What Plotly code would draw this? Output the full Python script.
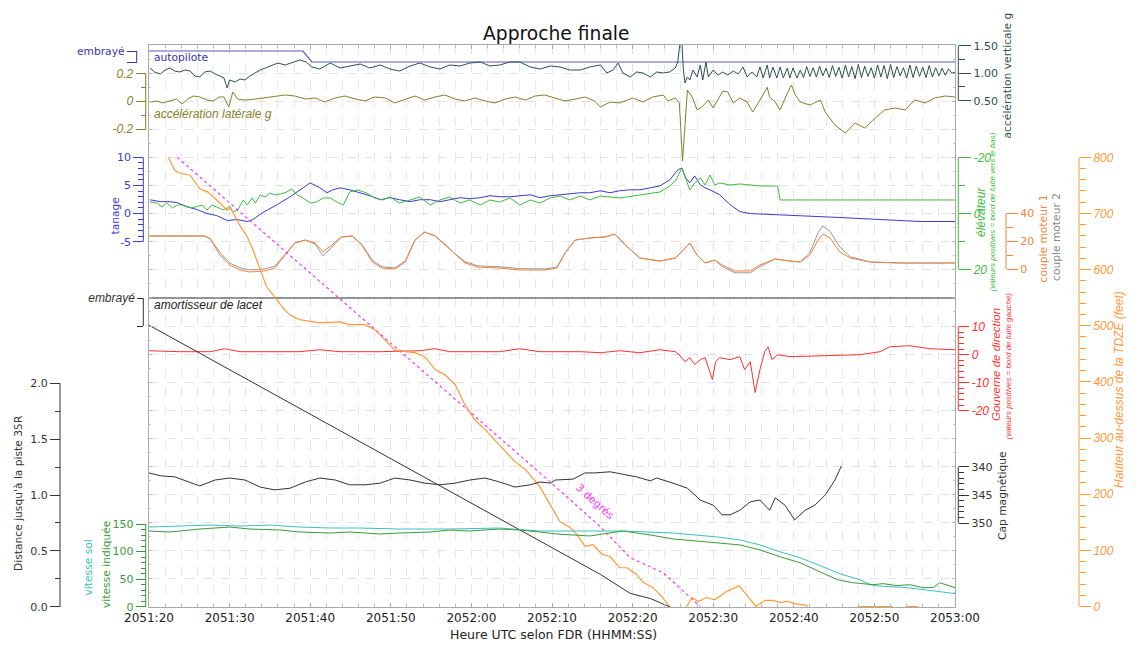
import plotly.graph_objects as go

# ---------------- data ----------------
TIME_TICK_SEC = [0, 10, 20, 30, 40, 50, 60, 70, 80, 90, 100]
TIME_TICKS = ["2051:20", "2051:30", "2051:40", "2051:50", "2052:00", "2052:10",
              "2052:20", "2052:30", "2052:40", "2052:50", "2053:00"]

AP_T = [0, 19.1, 20.2, 100]
AP_V = [1, 1, 0, 0]

VACC_T = [0.1, 0.7, 1.4, 2.0, 2.6, 3.2, 3.8, 4.5, 5.1, 5.7, 6.3, 6.9, 7.6, 8.2, 8.8, 9.3, 9.7, 10.0, 10.7,
          11.3, 11.9, 12.5, 13.8, 15.0, 16.0, 16.9, 17.7, 18.7, 19.5, 20.2, 21.2, 22.5, 23.7, 24.9, 26.2,
          27.4, 28.7, 29.9, 31.1, 32.4, 33.6, 34.9, 36.1, 37.3, 38.6, 39.8, 41.1, 42.3, 43.5, 44.8, 46.0,
          47.3, 48.5, 49.8, 51.0, 52.2, 53.5, 54.7, 56.0, 56.8, 57.6, 58.2, 58.8, 59.7, 60.5, 61.3, 62.2,
          63.0, 63.8, 64.6, 65.3, 65.6, 65.9, 66.1, 66.3, 66.5, 66.8, 67.1, 67.5, 68.0, 68.4, 68.7, 69.1,
          69.4, 70.0, 70.6, 71.2, 71.8, 72.5, 73.1, 73.7, 74.2, 74.8, 75.4, 75.8, 76.2, 76.7, 77.0, 77.4,
          77.9, 78.3, 78.7, 79.2, 79.5, 79.9, 80.4, 80.8,
          81.2, 81.6, 82.0, 82.4, 82.8, 83.2, 83.6, 84.0, 84.4, 84.8, 85.2, 85.6, 86.0, 86.4, 86.8, 87.2,
          87.6, 88.0, 88.4, 88.8, 89.2, 89.6, 90.0, 90.4, 90.8, 91.2, 91.6, 92.0, 92.4, 92.8, 93.2, 93.6,
          94.0, 94.4, 94.8, 95.2, 95.6, 96.0, 96.4, 96.8, 97.2, 97.6, 98.0, 98.4, 98.8, 99.2, 99.6, 100.0]
VACC_V = [1.095, 1.022, 0.985, 1.058, 1.095, 1.04, 1.022, 1.058, 1.04, 0.949, 0.931, 1.022, 1.04, 0.985,
          0.949, 0.913, 0.731, 0.876, 0.84, 0.895, 0.876, 0.949, 1.058, 1.131, 1.185, 1.149, 1.185, 1.24,
          1.204, 1.113, 1.076, 1.185, 1.095, 1.131, 1.167, 1.095, 1.149, 1.076, 1.04, 1.131, 1.185, 1.113,
          1.076, 1.149, 1.131, 1.185, 1.204, 1.131, 1.149, 1.204, 1.204, 1.113, 1.076, 1.131, 1.113, 1.058,
          1.058, 1.113, 1.149, 1.004, 1.058, 1.185, 1.004, 0.931, 1.022, 1.004, 0.931, 1.022, 1.004, 1.022,
          1.095, 1.204, 1.57, 1.6, 1.058, 0.822, 0.931, 0.876, 1.058, 0.931, 1.149, 0.876, 1.204, 0.931,
          1.058, 0.967, 1.022, 0.967, 1.04, 0.985, 1.113, 0.931, 1.022, 0.931, 1.113, 0.913, 1.149, 0.913,
          1.113, 0.913, 1.113, 0.913, 1.095, 0.913, 1.095, 0.913, 1.058,
          0.92, 1.12, 0.94, 1.10, 0.93, 1.13, 0.95, 1.09, 0.92, 1.14, 0.94, 1.11, 0.91, 1.15, 0.93, 1.12,
          0.90, 1.16, 0.92, 1.13, 0.94, 1.10, 0.91, 1.15, 0.93, 1.14, 0.90, 1.16, 0.92, 1.12, 0.95, 1.10,
          0.91, 1.15, 0.92, 1.13, 0.94, 1.11, 0.92, 1.14, 0.93, 1.10, 0.95, 1.09, 0.96, 1.08, 1.00, 1.02]

LACC_T = [0.1, 1.0, 1.7, 2.6, 3.4, 4.1, 4.8, 5.5, 6.3, 7.2, 8.0, 8.7, 9.3, 9.9, 10.4, 11.0, 11.9, 13.2,
          14.4, 15.6, 16.9, 18.1, 19.4, 20.6, 21.8, 23.1, 24.3, 25.6, 26.8, 28.0, 29.3, 30.5, 31.8, 33.0,
          34.2, 35.5, 36.7, 38.0, 39.2, 40.4, 41.7, 42.9, 44.2, 45.4, 46.7, 47.9, 49.1, 50.4, 51.6, 52.9,
          54.1, 55.3, 56.0, 57.2, 58.4, 60.0, 61.3, 62.5, 63.8, 64.4, 65.3, 65.8, 66.2, 66.6, 66.8, 67.4,
          68.0, 68.6, 69.4, 70.0, 71.2, 71.8, 72.5, 73.3, 74.2, 74.9, 75.6, 76.7, 77.0, 77.7, 78.3, 79.2,
          79.7, 80.2, 80.8, 82.0, 83.3, 83.9, 85.1, 86.4, 87.6, 88.8, 90.1, 91.3, 92.6, 93.8, 95.0, 96.3,
          97.5, 98.8, 100.0]
LACC_V = [-0.006, 0.001, -0.013, 0.001, 0.015, -0.02, 0.015, 0.037, 0.03, 0.008, 0.001, 0.03, 0.03,
          -0.042, 0.066, 0.015, 0.008, 0.015, 0.023, 0.03, 0.044, 0.037, 0.015, 0.023, -0.006, 0.023,
          0.037, 0.015, 0.001, 0.03, 0.023, -0.013, 0.015, 0.037, 0.008, 0.03, 0.044, 0.015, 0.001, 0.023,
          0.001, -0.013, 0.015, 0.03, 0.008, 0.037, 0.044, 0.023, 0.001, 0.015, 0.03, 0.001, -0.042,
          -0.006, -0.013, 0.023, -0.006, 0.03, 0.044, 0.001, 0.023, -0.013, -0.43, -0.085, 0.08, 0.03,
          -0.063, -0.042, 0.008, -0.049, 0.073, 0.066, -0.013, 0.023, -0.006, -0.078, -0.013, 0.1, 0.03,
          -0.006, -0.063, 0.058, 0.116, 0.044, -0.006, -0.028, 0.008, -0.078, -0.171, -0.229, -0.157,
          -0.193, -0.121, -0.063, -0.049, -0.063, 0.008, -0.013, 0.023, 0.037, 0.03]

PITCH_T = [0.1, 1.4, 2.6, 3.5, 4.7, 6.0, 7.2, 8.4, 9.7, 10.9, 12.2, 12.9, 14.1, 15.9, 17.5, 18.7, 20.0,
           21.2, 22.1, 22.8, 23.7, 24.9, 26.2, 27.4, 28.7, 29.9, 31.1, 32.4, 33.6, 34.9, 36.1, 37.3, 38.6,
           39.8, 41.1, 42.3, 43.5, 44.8, 46.0, 47.3, 48.5, 49.8, 51.0, 52.2, 53.5, 54.7, 56.0, 57.2, 58.4,
           59.7, 60.9, 62.2, 63.4, 64.6, 65.6, 66.1, 66.6, 67.1, 67.7, 68.4, 69.0, 69.6, 70.8, 72.1, 73.3,
           74.6, 77.0, 80.8, 85.7, 90.7, 95.7, 100]
PITCH_V = [2.46, 2.11, 2.11, 1.94, 1.23, 0.70, 0, -0.35, -1.23, -1.06, -1.41, -1.06, 0.18, 1.58, 2.99,
           4.22, 5.46, 4.58, 3.7, 4.22, 4.58, 4.22, 3.7, 3.17, 2.46, 2.82, 2.46, 2.11, 2.46, 2.46, 2.11,
           2.46, 2.82, 2.64, 2.82, 3.17, 2.99, 2.99, 3.17, 3.34, 2.82, 3.17, 3.34, 3.52, 3.7, 3.7, 4.05,
           3.7, 4.05, 4.22, 4.22, 4.58, 4.93, 5.98, 7.74, 8.1, 6.34, 5.46, 6.69, 5.1, 4.58, 4.22, 3.34,
           1.58, 0.35, 0, -0.18, -0.35, -0.7, -1.06, -1.41, -1.41]

ELEV_T = [0.1, 1.0, 1.6, 2.2, 2.9, 3.5, 4.1, 4.7, 5.3, 6.0, 6.6, 7.2, 7.8, 8.4, 9.2, 9.7, 10.0, 10.4,
          11.0, 11.7, 12.2, 12.8, 13.2, 13.8, 14.4, 15.0, 15.6, 16.3, 17.1, 17.7, 18.4, 19.1, 20.0, 20.8,
          21.6, 22.5, 23.3, 24.1, 24.9, 25.9, 27.0, 28.0, 29.0, 29.9, 31.1, 32.4, 33.6, 34.9, 36.1, 37.3,
          38.6, 39.8, 41.1, 42.3, 43.5, 44.8, 46.0, 47.3, 48.5, 49.8, 51.0, 52.2, 53.5, 54.7, 56.0, 58.4,
          60.9, 63.4, 64.6, 65.4, 66.1, 66.6, 67.1, 67.7, 68.4, 69.0, 69.6, 70.2, 70.8, 72.1, 73.3, 74.6,
          75.8, 78.0, 78.3, 100]
ELEV_V = [-4.04, -3.68, -2.26, -3.68, -1.9, -2.97, -2.97, -2.26, -1.9, -2.61, -2.97, -1.19, -2.97, -2.26,
          -1.19, -1.9, -2.61, -0.47, -1.19, -4.76, -2.97, -5.47, -3.68, -6.54, -5.83, -7.25, -6.54, -6.9,
          -7.61, -8.68, -6.54, -5.47, -3.68, -4.04, -5.47, -5.47, -4.04, -2.97, -7.61, -8.33, -7.25, -5.47,
          -4.76, -5.83, -3.68, -4.76, -5.83, -2.97, -4.76, -5.83, -3.68, -4.76, -2.97, -4.76, -4.04, -5.47,
          -2.97, -4.76, -3.68, -5.47, -6.18, -4.76, -6.18, -4.76, -6.18, -5.47, -6.54, -7.61, -9.75, -11.9,
          -16.18, -11.9, -8.33, -10.83, -12.6, -10.11, -13.68, -10.11, -10.83, -10.11, -10.47, -10.11,
          -9.75, -9.75, -4.76, -4.76]

TQ_T = [0, 4.0, 6.9, 7.6, 8.8, 10.0, 11.3, 12.5, 14.4, 15.6, 16.9, 18.1, 19.4, 20.6, 21.6, 22.7, 23.9,
        25.2, 26.4, 27.7, 28.9, 30.5, 31.8, 33.0, 34.2, 35.5, 36.7, 38.0, 39.2, 40.8, 43.5, 46.0, 49.1,
        50.6, 51.7, 52.9, 54.7, 56.6, 57.8, 59.1, 60.9, 63.4, 65.3, 66.3, 67.1, 68.0, 69.0, 70.2, 71.1,
        72.7, 74.6, 75.8, 77.7, 79.5, 80.8, 82.0, 83.0, 83.6, 84.5, 85.7, 87.0, 89.5, 93.2, 100]
TQ1_V = [23.8, 23.8, 23.8, 21.6, 10.2, 3.1, -0.5, -1.9, -1.2, 0.9, 10.2, 18.8, 20.9, 18.8, 12.4, 17.4,
         23.1, 23.8, 17.4, 5.2, 0.9, 0.2, 5.2, 20.9, 26.6, 23.8, 17.4, 10.2, 4.5, 1.6, 0.9, -0.5, -0.5,
         0.9, 12.4, 20.9, 22.4, 23.1, 25.2, 17.4, 8.1, 5.9, 8.1, 13.8, 18.8, 10.2, 4.5, 6.6, 3.1, -1.2,
         -1.2, 3.1, 7.4, 5.9, 5.2, 10.2, 20.9, 25.2, 22.4, 12.4, 8.1, 5.2, 4.5, 4.5]
TQ2_V = [23.8, 23.8, 23.8, 22.0, 12.0, 4.5, 1.0, -0.4, 0.3, 2.2, 11.0, 18.8, 20.9, 18.0, 9.5, 16.0,
         23.1, 23.8, 18.0, 6.5, 1.8, 1.0, 6.0, 20.9, 26.6, 23.8, 18.0, 11.0, 5.5, 2.5, 1.8, 0.5, 0.3,
         1.5, 12.4, 20.9, 22.4, 23.1, 25.2, 17.4, 8.1, 5.9, 8.1, 13.8, 18.8, 10.2, 4.5, 6.6, 2.0, -2.5,
         -2.5, 2.0, 7.4, 5.9, 5.2, 12.0, 26.0, 31.0, 27.0, 16.0, 9.0, 5.2, 4.5, 4.5]

YAW_T = [0, 100]
YAW_V = [1, 1]

RUD_T = [0, 3.8, 7.6, 9.4, 11.3, 15.0, 18.7, 21.2, 23.7, 28.7, 33.6, 35.5, 37.3, 43.5, 46.0, 48.5, 53.5,
         56.0, 58.4, 60.9, 63.4, 65.3, 65.9, 66.5, 67.1, 67.7, 68.4, 69.0, 69.5, 69.9, 70.3, 70.8, 72.1,
         73.3, 73.9, 74.6, 75.2, 75.8, 76.4, 76.8, 77.3, 78.0, 79.5, 83.3, 88.2, 90.7, 91.9, 94.4, 96.9,
         100]
RUD_V = [1.42, 1.07, 1.07, 2.13, 1.07, 1.07, 1.07, 1.78, 1.07, 1.07, 1.42, 2.13, 1.07, 1.07, 2.13, 1.07,
         1.07, 0.71, 1.42, 0.71, 1.78, 1.07, -0.36, -2.49, -1.07, -3.55, -1.78, -1.07, -5.33, -8.88, -2.49,
         -1.07, -1.78, -0.71, -5.33, -2.49, -13.5, -5.33, 1.07, 2.84, -1.78, 0, -0.71, -0.36, 0, 1.07, 2.84,
         3.2, 2.13, 1.78]

HGT_T = [2.4, 3.2, 3.8, 5.1, 6.3, 7.3, 8.4, 9.2, 9.7, 10.0, 10.4, 11.0, 12.2, 12.9, 13.8, 14.6, 15.9,
         16.6, 17.5, 18.7, 21.2, 23.7, 24.9, 26.8, 28.0, 29.3, 30.5, 31.8, 33.0, 34.2, 35.5, 36.7, 38.0,
         39.2, 40.4, 41.7, 42.9, 44.2, 45.4, 46.7, 48.5, 49.8, 51.0, 52.2, 53.1, 54.1, 55.1, 56.2, 57.2,
         58.4, 59.3, 60.5, 61.3, 62.5, 63.6, 64.6, 65.5, 66.7, 67.4, 68.1, 69.2, 70.2, 71.7, 73.2, 75.3,
         76.4, 77.4, 78.3, 79.3, 80.1, 81.6, 82.3, None, 88.0, 92.3, None, 94.0, 95.4]
HGT_V = [800, 777, 772, 768, 744, 738, 724, 712, 706, 710, 703, 685, 658, 635, 600, 569, 546, 532, 519,
         511, 505, 507, 502, 502, 493, 475, 457, 454, 452, 445, 422, 413, 395, 359, 333, 315, 297, 276,
         258, 244, 213, 181, 151, 141, 128, 107, 110, 93, 89, 69, 69, 57, 43, 34, 18, 0, -23, 0, 16, 9,
         16, 12, 27, 37, 0, 11, 11, 7, 9, 5, 2, -20, None, 0, 0, None, 0, 0]

GLIDE_T = [3.5, 48.5, 56.0, 59.7, 63.8, 68.4]
GLIDE_V = [800, 238, 142, 87, 60, 0]

DIST_T = [0, 48.5, 52.2, 56.0, 59.7, 62.2, 64.6]
DIST_V = [2.52, 0.585, 0.44, 0.29, 0.12, 0.074, 0.0]

HDG_T = [0, 1.4, 3.2, 5.1, 6.3, 8.2, 10.0, 11.9, 13.8, 15.6, 17.5, 19.4, 21.2, 23.1, 24.9, 26.8, 28.7,
         30.5, 32.4, 34.2, 36.1, 38.0, 39.8, 41.7, 43.5, 45.4, 47.3, 48.5, 49.8, 50.4, 52.6, 54.1, 55.3,
         57.2, 58.8, 60.5, 62.2, 63.0, 65.0, 66.8, 68.4, 70.0, 71.1, 72.1, 73.3, 74.6, 75.8, 77.0, 77.7,
         78.9, 80.1, 81.4, 82.6, 83.9, 85.1, 85.9]
HDG_V = [341.1, 341.6, 341.8, 342.7, 343.4, 342.35, 342.0, 342.35, 343.6, 344.1, 343.8, 342.7, 342.0,
         342.35, 343.2, 343.2, 342.9, 342.0, 342.35, 342.9, 343.2, 342.9, 342.35, 342.0, 342.7, 343.6,
         343.2, 342.7, 342.9, 342.35, 342.2, 341.1, 341.1, 340.9, 341.3, 341.8, 342.5, 342.0, 342.9,
         343.8, 345.9, 346.8, 348.5, 348.5, 347.7, 346.2, 345.9, 347.7, 345.5, 346.8, 349.4, 347.7,
         346.8, 345.0, 342.35, 339.9]

GS_T = [0, 3.8, 7.6, 11.3, 15.0, 18.7, 22.5, 26.2, 31.1, 37.3, 43.5, 48.5, 58.8, 65.0, 70.5, 73.3, 75.8,
        78.3, 80.8, 83.3, 85.7, 88.2, 89.8, 91.9, 94.0, 98.1, 100]
GS_V = [144.5, 146.3, 148.1, 146.3, 148.1, 144.5, 142.7, 142.7, 140.9, 140.9, 142.7, 137.3, 137.3, 133.7,
        126.5, 121.1, 112.1, 99.5, 88.7, 74.3, 59.9, 49.1, 38.3, 36.5, 34.7, 27.5, 23.9]

IAS_T = [0, 2.6, 6.3, 10.0, 12.5, 16.3, 18.7, 22.5, 24.9, 28.7, 31.1, 34.9, 37.3, 39.8, 43.5, 46.0, 48.5,
         50.6, 54.7, 58.8, 62.2, 65.0, 69.2, 73.3, 75.8, 78.3, 80.8, 83.3, 85.4, 87.3, 89.8, 91.1, 92.8,
         94.4, 96.0, 97.3, 98.1, 100]
IAS_V = [137.3, 135.5, 140.9, 144.5, 140.9, 139.1, 135.5, 133.7, 135.5, 131.9, 133.7, 135.5, 139.1, 137.3,
         140.9, 139.1, 135.5, 131.9, 128.3, 137.3, 130.1, 122.9, 117.5, 112.1, 103.1, 90.5, 79.7, 63.5,
         49.1, 43.7, 40.1, 41.9, 38.3, 40.1, 34.7, 34.7, 43.7, 34.7]

# ---------------- layout helpers ----------------
# The page body adds an 8 px offset; all positions below are page pixels.
OFF = 8
W, H = 1136 - OFF, 648 - OFF
PL, PR, PT, PB = 149, 955, 45, 607


def fx(px):
    return (px - OFF) / W


def fy(py):
    return (PB - py) / (PB - PT)


def span(va, pya, vb, pyb):
    s = (vb - va) / (pyb - pya)
    return [va + (PB - pya) * s, va + (PT - pya) * s]


DV = "DejaVu Sans"
LI = "Liberation Sans"

fig = go.Figure()

# invisible trace on the base axis
fig.add_trace(go.Scatter(x=[0, 100], y=[0, 0], mode="lines", line=dict(width=0),
                         hoverinfo="skip", showlegend=False))

axes = {}
shapes = []


def add_axis(name, pos_px, side, va, pya, vb, pyb, color, tickvals, ticktext, minorvals,
             ticklen, minorlen, font, fsize, italic=False):
    rng = span(va, pya, vb, pyb)
    axes[name] = dict(
        overlaying="y", anchor="free", position=fx(pos_px), side=side, range=rng,
        automargin=False, autoshift=False,
        showgrid=False, zeroline=False, showline=False,
        tickmode="array", tickvals=tickvals, ticktext=ticktext,
        ticks="outside", ticklen=ticklen, tickwidth=1, tickcolor=color,
        tickfont=dict(family=font, size=fsize, color=color,
                      style="italic" if italic else "normal"),
        minor=dict(tickmode="array", tickvals=minorvals, ticks="outside", ticklen=minorlen,
                   tickcolor=color, tickwidth=1, showgrid=False),
    )
    shapes.append(dict(type="line", xref="paper", yref=name.replace("axis", ""),
                       x0=fx(pos_px), x1=fx(pos_px), y0=va, y1=vb,
                       line=dict(color=color, width=1)))


C_AP = "#3535a8"
C_VA = "#2c5250"
C_LA = "#82822a"
C_PI = "#3a3ad0"
C_EL = "#3cbc3c"
C_TQ = "#f5823a"
C_TQ2 = "#999999"
C_YAW = "#333333"
C_RU = "#ff3030"
C_HG = "#ff9a3a"
C_DI = "#333333"
C_HD = "#333333"
C_IAS = "#3a9a3a"
C_GS = "#3cc0c0"

add_axis("yaxis2", 136.7, "left", 1, 51, 0, 62, C_AP, [0, 1], ["", "embrayé"], [], 10, 5, DV, 10.7)
add_axis("yaxis3", 958.3, "right", 1.5, 45.7, 0.5, 100.7, C_VA, [0.5, 1.0, 1.5],
         ["0.50", "1.00", "1.50"], [0.75, 1.25], 12, 6, DV, 11)
add_axis("yaxis4", 145.7, "left", 0.2, 73.3, -0.2, 129, C_LA, [-0.2, 0, 0.2],
         ["-0.2", "0", "0.2"], [-0.1, 0.1], 10, 5, LI, 12, True)
add_axis("yaxis5", 143.3, "left", 10, 157.3, -5, 241.7, C_PI, [-5, 0, 5, 10],
         ["-5", "0", "5", "10"], [v for v in range(-4, 10) if v % 5], 10, 5, DV, 11)
add_axis("yaxis6", 958.3, "right", -20, 157.3, 20, 269.3, C_EL, [-20, 0, 20],
         ["-20", "0", "20"], [-10, 10], 12, 6, LI, 12, True)
add_axis("yaxis7", 1006, "right", 40, 213.3, 0, 269.3, C_TQ, [0, 20, 40],
         ["0", "20", "40"], [10, 30], 11, 6, DV, 11)
add_axis("yaxis8", 143.3, "left", 1, 298, 0, 326, C_YAW, [0, 1], ["", "embrayé"], [], 6, 3, LI, 12, True)
add_axis("yaxis9", 958.3, "right", 10, 326.7, -20, 410.7, C_RU, [-20, -10, 0, 10],
         ["-20", "-10", "0", "10"], [v for v in range(-18, 10, 2) if v % 10], 10, 5, LI, 12, True)
add_axis("yaxis10", 1079, "right", 800, 157.3, 0, 606.5, C_HG, list(range(0, 801, 100)),
         [str(v) for v in range(0, 801, 100)], [v for v in range(20, 800, 20) if v % 100], 11, 6,
         LI, 12, True)
add_axis("yaxis11", 60, "left", 2.0, 383.3, 0.0, 606.8, C_DI, [0, 0.5, 1.0, 1.5, 2.0],
         ["0.0", "0.5", "1.0", "1.5", "2.0"], [0.25, 0.75, 1.25, 1.75], 10, 5, DV, 11)
add_axis("yaxis12", 958.3, "right", 340, 466.7, 350, 523.3, C_HD, [340, 345, 350],
         ["340", "345", "350"], [341, 342, 343, 344, 346, 347, 348, 349], 10, 5, DV, 11)
add_axis("yaxis13", 145.7, "left", 150, 524, 0, 606.8, C_IAS, [0, 50, 100, 150],
         ["0", "50", "100", "150"], [v for v in range(10, 150, 10) if v % 50], 10, 5, DV, 11)


def line(t, v, ax, color, width=1.0, dash="solid"):
    fig.add_trace(go.Scatter(x=t, y=v, yaxis=ax, mode="lines",
                             line=dict(color=color, width=width, dash=dash),
                             hoverinfo="skip", showlegend=False, connectgaps=False))


line(GS_T, GS_V, "y13", C_GS)
line(IAS_T, IAS_V, "y13", C_IAS)
line(HDG_T, HDG_V, "y12", C_HD)
line(DIST_T, DIST_V, "y11", C_DI)
line(RUD_T, RUD_V, "y9", C_RU)
line(YAW_T, YAW_V, "y8", C_YAW, 1.2)
line(TQ_T, TQ2_V, "y7", C_TQ2)
line(TQ_T, TQ1_V, "y7", C_TQ)
line(ELEV_T, ELEV_V, "y6", C_EL)
line(PITCH_T, PITCH_V, "y5", C_PI)
line(LACC_T, LACC_V, "y4", C_LA)
line(VACC_T, VACC_V, "y3", C_VA)
line(AP_T, AP_V, "y2", "#5a5ac0", 1.2)
line(GLIDE_T, GLIDE_V, "y10", "#ff33ff", 1.2, "dot")
line(HGT_T, HGT_V, "y10", C_HG, 1.2)

ann = []


def text(s, px, py, color, size, font=DV, italic=False, angle=0, xanchor="center"):
    ann.append(dict(text=s, x=fx(px), y=fy(py), xref="paper", yref="paper", showarrow=False,
                    xanchor=xanchor, yanchor="middle", textangle=angle,
                    font=dict(family=font, size=size, color=color,
                              style="italic" if italic else "normal")))


text("Approche finale", 556, 33, "#111111", 18.7)
text("Heure UTC selon FDR (HHMM:SS)", 553, 634, "#222222", 12.5)
text("autopilote", 152, 57, C_AP, 10.7, xanchor="left")
text("accélération latérale g", 152, 114, C_LA, 12, LI, True, xanchor="left")
text("amortisseur de lacet", 152, 305, "#222222", 12, LI, True, xanchor="left")
text("3 degrés", 595, 501, "#ff33ff", 10.7, angle=42)
text("accélération verticale g", 1006.5, 76, C_VA, 10.7, angle=-90)
text("tanage", 115.5, 216, C_PI, 10.7, angle=-90)
text("élévateur", 981, 212, C_EL, 12, LI, True, angle=-90)
text("(valeurs positives = bord de fuite vers le bas)", 991.5, 212, C_EL, 8, LI, True, angle=-90)
text("couple moteur 1", 1042.5, 239, C_TQ, 10.7, angle=-90)
text("couple moteur 2", 1056, 237, "#888888", 10.7, angle=-90)
text("Gouverne de direction", 996, 365, C_RU, 11.5, LI, True, angle=-90)
text("(valeurs positives = bord de fuite gauche)", 1007.5, 366, C_RU, 8, LI, True, angle=-90)
text("Hauteur au-dessus de la TDZE (feet)", 1119, 390, C_HG, 12, LI, True, angle=-90)
text("Cap magnétique", 1002, 496, C_HD, 10.7, angle=-90)
text("Distance jusqu'à la piste 35R", 18, 493, C_DI, 10.7, angle=-90)
text("vitesse indiquée", 106, 565, C_IAS, 10.7, angle=-90)
text("vitesse sol", 87.5, 568, C_GS, 10.7, angle=-90)

layout = dict(
    width=W, height=H,
    margin=dict(l=0, r=0, t=PT - OFF, b=(H + OFF) - PB, autoexpand=False),
    plot_bgcolor="white", paper_bgcolor="white", showlegend=False,
    xaxis=dict(domain=[fx(PL), fx(PR)], range=[0, 100], tickmode="array", automargin=False,
               tickvals=TIME_TICK_SEC, ticktext=TIME_TICKS, ticks="inside", ticklen=4,
               tickcolor="#aaaaaa", showline=True, linecolor="#aaaaaa", mirror="ticks",
               showgrid=True, gridcolor="#e2e2e2", griddash="dash", zeroline=False,
               tickfont=dict(family=DV, size=12, color="#222222"),
               minor=dict(dtick=2, tick0=0, ticks="inside", ticklen=3, tickcolor="#bbbbbb",
                          showgrid=True, gridcolor="#e8e8e8", griddash="dash")),
    yaxis=dict(range=[0, 20], dtick=1, tick0=0, showgrid=True, gridcolor="#e2e2e2",
               griddash="dash", showticklabels=False, ticks="inside", ticklen=3, automargin=False,
               tickcolor="#bbbbbb", showline=True, linecolor="#aaaaaa", mirror="ticks",
               zeroline=False,
               minor=dict(dtick=0.5, ticks="inside", ticklen=2, tickcolor="#cccccc",
                          showgrid=False)),
    shapes=shapes, annotations=ann,
)
layout.update(axes)
fig.update_layout(**layout)

fig.write_html("out.html")
